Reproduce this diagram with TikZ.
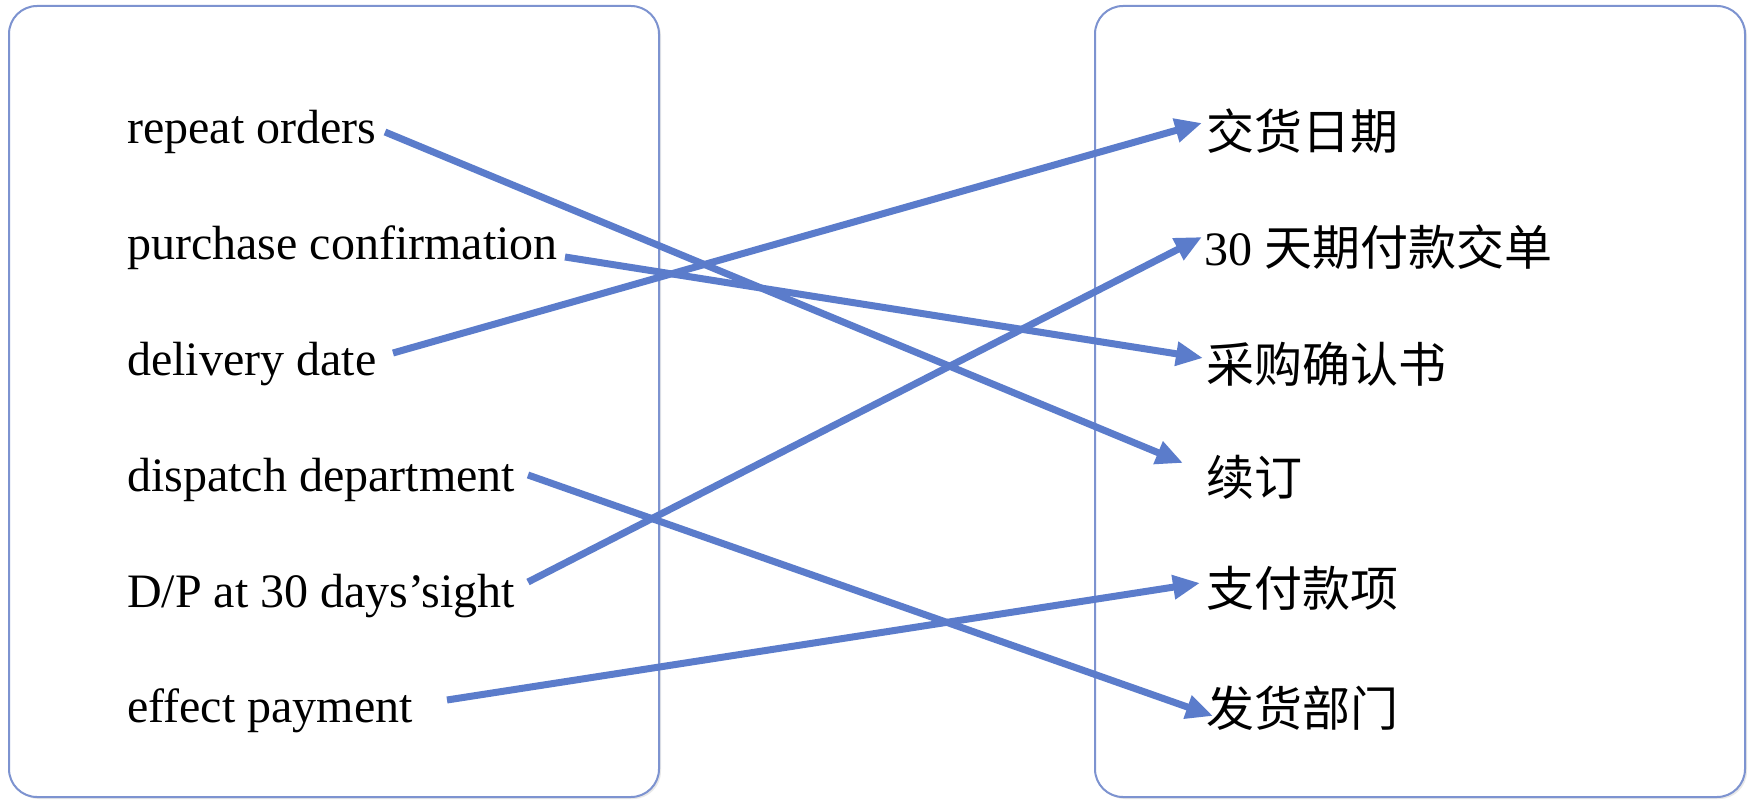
\documentclass[tikz,border=0pt]{standalone}
\usepackage{fontspec}
\setmainfont{Liberation Serif}
\newfontfamily\cjk{Noto Sans CJK SC}
\usetikzlibrary{arrows.meta,shadows}
\definecolor{boxline}{HTML}{7D93D0}
\definecolor{arrowblue}{HTML}{5B7CCB}
\begin{document}
\begin{tikzpicture}[x=1pt,y=-1pt,
  panel/.style={draw=boxline, line width=2pt, rounded corners=28pt, fill=white,
    drop shadow={opacity=0.18, shadow xshift=2pt, shadow yshift=-2pt}},
  entxt/.style={anchor=base west, inner sep=0pt, font=\fontsize{48}{58}\selectfont},
  zhtxt/.style={anchor=base west, inner sep=0pt, font=\fontsize{48}{58}\selectfont\cjk},
  link/.style={draw=arrowblue, line width=7pt, -{Triangle[length=27pt,width=23pt]}}]
\useasboundingbox (0,0) rectangle (1748,800);
\fill[white] (0,0) rectangle (1748,800);
% panels
\node[panel, minimum width=650pt, minimum height=791pt, inner sep=0pt] (leftbox) at (334,401.5) {};
\node[panel, minimum width=650pt, minimum height=791pt, inner sep=0pt] (rightbox) at (1420,401.5) {};
% left texts
\node[entxt] (e1) at (127,143) {repeat orders};
\node[entxt] (e2) at (127,259) {purchase confirmation};
\node[entxt] (e3) at (127,375) {delivery date};
\node[entxt] (e4) at (127,491) {dispatch department};
\node[entxt] (e5) at (127,607) {D/P at 30 days’sight};
\node[entxt] (e6) at (127,722) {effect payment};
% right texts
\node[zhtxt] (z1) at (1206,149) {交货日期};
\node[entxt] (z2) at (1204,265) {30 {\cjk 天期付款交单}};
\node[zhtxt] (z3) at (1206,382) {采购确认书};
\node[zhtxt] (z4) at (1206,495) {续订};
\node[zhtxt] (z5) at (1206,606) {支付款项};
\node[zhtxt] (z6) at (1206,726) {发货部门};
% connector end points
\coordinate (s1) at (385,132);
\coordinate (s2) at (565,257);
\coordinate (s3) at (393,353);
\coordinate (s4) at (528,475);
\coordinate (s5) at (528,582);
\coordinate (s6) at (447,700);
\coordinate (t1) at (1202,123);
\coordinate (t2) at (1202,237);
\coordinate (t3) at (1203,358);
\coordinate (t4) at (1183,463);
\coordinate (t5) at (1200,583);
\coordinate (t6) at (1213,716);
% connectors
\draw[link] (s1) -- (t4);
\draw[link] (s2) -- (t3);
\draw[link] (s3) -- (t1);
\draw[link] (s4) -- (t6);
\draw[link] (s5) -- (t2);
\draw[link] (s6) -- (t5);
\end{tikzpicture}
\end{document}
